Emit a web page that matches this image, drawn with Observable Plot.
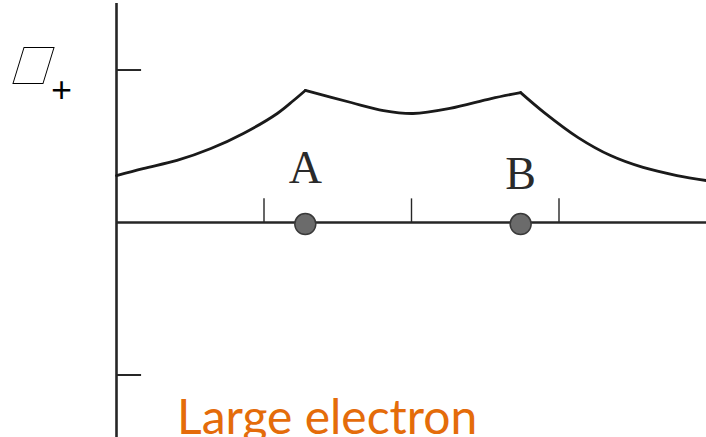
<!DOCTYPE html>
<html>
<head>
<meta charset="utf-8">
<script src="https://cdn.jsdelivr.net/npm/d3@7"></script>
<script src="https://cdn.jsdelivr.net/npm/@observablehq/plot@0.6"></script>
<style>
  html, body { margin: 0; padding: 0; background: #fff; overflow: hidden; }
  #wrap { position: relative; width: 706px; height: 437px; }
  #wrap svg { position: absolute; left: 0; top: 0; }
  .psi { position: absolute; left: 18px; top: 47px; width: 31px; height: 37px;
         border: 1.3px solid #000; box-sizing: border-box; transform: skewX(-17deg); }
  .plus { position: absolute; left: 51px; top: 70px; font: 400 37px "Open Sans", sans-serif; color: #000; line-height: 1; }
  .caption { position: absolute; left: 177px; top: 392px; font: 400 48px Lato, "Open Sans", sans-serif;
             color: #e46c0a; line-height: 1; white-space: nowrap; }
</style>
</head>
<body>
<div id="wrap"></div>
<script>
// Wavefunction along the axis: three pieces joined at cusps on the two nuclei
const waveX   = [0, 0.18, 0.41, 0.64, 0.86, 1.09, 1.20, 1.28,
                 1.28, 1.59, 1.81, 2.01, 2.26, 2.54, 2.74,
                 2.74, 2.90, 3.13, 3.35, 3.57, 3.80, 4.0];
const waveY   = [0.308, 0.354, 0.407, 0.485, 0.584, 0.715, 0.800, 0.866,
                 0.866, 0.787, 0.734, 0.715, 0.748, 0.813, 0.852,
                 0.852, 0.721, 0.557, 0.439, 0.361, 0.308, 0.275];
const wavePiece = ["left", "left", "left", "left", "left", "left", "left", "left",
                   "mid", "mid", "mid", "mid", "mid", "mid", "mid",
                   "right", "right", "right", "right", "right", "right", "right"];

// Nuclei positions on the internuclear axis
const nucleusName = ["A", "B"];
const nucleusX = [1.28, 2.74];
const nucleusLabelY = [0.256, 0.223];

// Axis ticks
const xTicks = [1, 2, 3];
const yTicks = [1, -1];

const wave = waveX.map((x, i) => ({x, y: waveY[i], piece: wavePiece[i]}));
const nuclei = nucleusName.map((name, i) => ({name, x: nucleusX[i], ly: nucleusLabelY[i]}));

const ink = "#262626";

const chart = Plot.plot({
  width: 706,
  height: 437,
  margin: 0,
  x: {domain: [0, 4], range: [116, 706], axis: null},
  y: {domain: [-1.41, 1.456], axis: null},
  marks: [
    // vertical axis
    Plot.ruleX([0], {y1: -1.41, y2: 1.436, stroke: ink, strokeWidth: 2.6}),
    // horizontal axis
    Plot.ruleY([0], {x1: 0, x2: 4, stroke: ink, strokeWidth: 2.4}),
    // short ticks
    Plot.ruleY(yTicks, {x1: 0, x2: 0.17, stroke: ink, strokeWidth: 2}),
    Plot.ruleX(xTicks, {y1: 0, y2: 0.155, stroke: ink, strokeWidth: 1.4}),
    // the curve
    Plot.line(wave, {x: "x", y: "y", z: "piece", curve: "catmull-rom",
                     stroke: "#1a1a1a", strokeWidth: 2.8}),
    // nuclei
    Plot.dot(nuclei, {x: "x", y: -0.01, r: 10.5, fill: "#6b6b6b", stroke: "#3a3a3a", strokeWidth: 1.5}),
    Plot.text(nuclei, {x: "x", y: "ly", text: "name", lineAnchor: "bottom",
                       fontFamily: "Liberation Serif, serif", fontSize: 46, fill: "#2a2a2a"})
  ]
});

const wrap = document.getElementById("wrap");
wrap.appendChild(chart);

const psi = document.createElement("div");
psi.className = "psi";
wrap.appendChild(psi);

const plus = document.createElement("div");
plus.className = "plus";
plus.textContent = "+";
wrap.appendChild(plus);

const cap = document.createElement("div");
cap.className = "caption";
cap.textContent = "Large electron";
wrap.appendChild(cap);
</script>
</body>
</html>
